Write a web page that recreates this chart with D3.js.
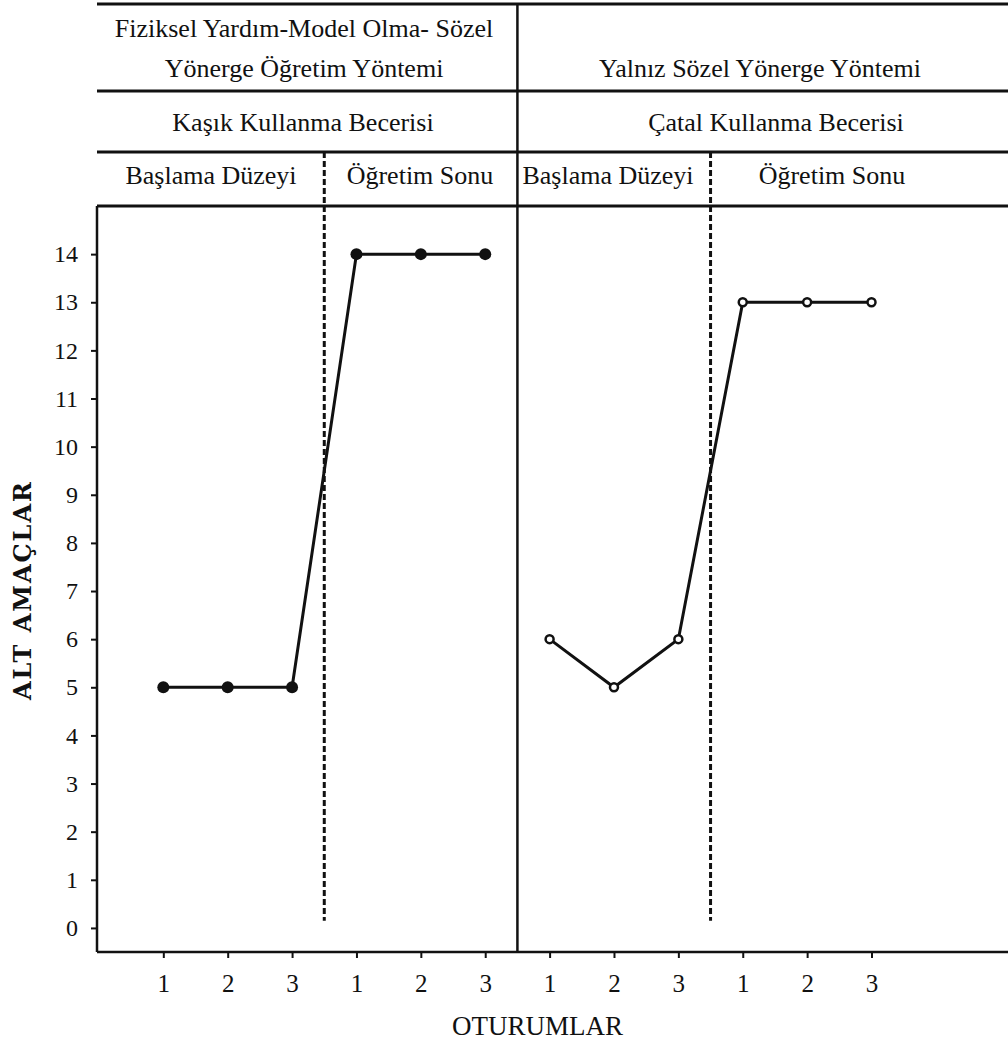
<!DOCTYPE html>
<html>
<head>
<meta charset="utf-8">
<script src="https://cdn.jsdelivr.net/npm/d3@7"></script>
<style>
  body { margin: 0; background: #fff; }
  svg { display: block; }
  text { fill: #111; }
</style>
</head>
<body>
<div id="chart"></div>
<script>
// session labels along the x axis (two skills x two phases x three sessions)
const sessions = ["1", "2", "3", "1", "2", "3", "1", "2", "3", "1", "2", "3"];
const yTicks = [0, 1, 2, 3, 4, 5, 6, 7, 8, 9, 10, 11, 12, 13, 14];

// Kaşık (spoon) - baseline then end of teaching
const kasikValues = [5, 5, 5, 14, 14, 14];
// Çatal (fork)
const catalValues = [6, 5, 6, 13, 13, 13];

const methodLabels = [
    ["Fiziksel Yardım-Model Olma- Sözel", "Yönerge Öğretim Yöntemi"],
    ["Yalnız Sözel Yönerge Yöntemi"]
];
const skillLabels = ["Kaşık Kullanma Becerisi", "Çatal Kullanma Becerisi"];
const phaseLabels = ["Başlama Düzeyi", "Öğretim Sonu", "Başlama Düzeyi", "Öğretim Sonu"];

const width = 1008, height = 1043;
const left = 97, right = 1008;
const plotTop = 206, plotBottom = 952;
const rowLines = [4, 91, 152, 206];
const serif = "'Liberation Serif', 'Times New Roman', serif";

const svg = d3.select("#chart")
    .append("svg")
    .attr("width", width)
    .attr("height", height)
    .style("font-family", serif);

const x = d3.scaleLinear().domain([-1.03, 13.12]).range([left, right]);
const y = d3.scaleLinear().domain([-0.5, 15]).range([plotBottom, plotTop]);

// --- header table ---
svg.append("g")
    .selectAll("line")
    .data(rowLines)
    .join("line")
    .attr("x1", left)
    .attr("x2", right)
    .attr("y1", d => d)
    .attr("y2", d => d)
    .attr("stroke", "#111")
    .attr("stroke-width", 3);

// solid divider between the two skills
svg.append("line")
    .attr("x1", x(5.5)).attr("x2", x(5.5))
    .attr("y1", rowLines[0]).attr("y2", plotBottom)
    .attr("stroke", "#111")
    .attr("stroke-width", 2.5);

// phase change lines
svg.append("g")
    .selectAll("line")
    .data([2.5, 8.5])
    .join("line")
    .attr("x1", d => x(d)).attr("x2", d => x(d))
    .attr("y1", rowLines[2]).attr("y2", y(0.15))
    .attr("stroke", "#111")
    .attr("stroke-width", 3)
    .attr("stroke-dasharray", "6,3");

const fs = "26px";

// row 1: method
const m1 = svg.append("text")
    .attr("x", 304)
    .attr("text-anchor", "middle")
    .style("font-family", serif)
    .attr("font-size", fs);
m1.selectAll("tspan")
    .data(methodLabels[0])
    .join("tspan")
    .attr("x", 304)
    .attr("y", (d, i) => 37 + i * 40)
    .text(d => d);

svg.append("text")
    .attr("x", 760)
    .attr("y", 77)
    .attr("text-anchor", "middle")
    .style("font-family", serif)
    .attr("font-size", fs)
    .text(methodLabels[1][0]);

// row 2: skill
svg.append("g")
    .selectAll("text")
    .data(skillLabels)
    .join("text")
    .attr("x", (d, i) => i === 0 ? 303 : 776)
    .attr("y", 131)
    .attr("text-anchor", "middle")
    .style("font-family", serif)
    .attr("font-size", fs)
    .text(d => d);

// row 3: phase
const phaseX = [211, 420, 608, 832];
svg.append("g")
    .selectAll("text")
    .data(phaseLabels)
    .join("text")
    .attr("x", (d, i) => phaseX[i])
    .attr("y", 184)
    .attr("text-anchor", "middle")
    .style("font-family", serif)
    .attr("font-size", fs)
    .text(d => d);

// --- axes ---
const yAxis = d3.axisLeft(y)
    .tickValues(yTicks)
    .tickSize(6)
    .tickPadding(13)
    .tickSizeOuter(0);

const yG = svg.append("g")
    .attr("transform", `translate(${left},0)`)
    .call(yAxis);
yG.select(".domain").remove();
yG.append("line")
    .attr("y1", plotTop).attr("y2", plotBottom)
    .attr("stroke", "#111").attr("stroke-width", 2.5);
yG.selectAll(".tick line").attr("stroke", "#111").attr("stroke-width", 2);
yG.selectAll(".tick text")
    .attr("font-size", "24px")
    .style("font-family", serif)
    .attr("fill", "#111");

const xAxis = d3.axisBottom(x)
    .tickValues(d3.range(sessions.length))
    .tickFormat(i => sessions[i])
    .tickSize(6)
    .tickPadding(16);

const xG = svg.append("g")
    .attr("transform", `translate(0,${plotBottom})`)
    .call(xAxis);
xG.select(".domain").remove();
xG.append("line")
    .attr("x1", left).attr("x2", right)
    .attr("stroke", "#111").attr("stroke-width", 2.5);
xG.selectAll(".tick line").attr("stroke", "#111").attr("stroke-width", 2);
xG.selectAll(".tick text")
    .attr("font-size", "25px")
    .style("font-family", serif)
    .attr("fill", "#111");

// axis titles
svg.append("text")
    .attr("transform", `translate(31,590) rotate(-90)`)
    .attr("text-anchor", "middle")
    .style("font-family", "'DejaVu Serif', serif")
    .attr("font-weight", "bold")
    .attr("font-size", "24px")
    .attr("letter-spacing", "2px")
    .text("ALT AMAÇLAR");

svg.append("text")
    .attr("x", 452)
    .attr("y", 1035)
    .style("font-family", serif)
    .attr("font-size", "27px")
    .text("OTURUMLAR");

// --- data series ---
const line = d3.line()
    .x(d => x(d.i))
    .y(d => y(d.v));

const series = [
    { values: kasikValues, offset: 0, filled: true },
    { values: catalValues, offset: 6, filled: false }
];

series.forEach(s => {
    const pts = s.values.map((v, k) => ({ i: s.offset + k, v }));
    svg.append("path")
        .datum(pts)
        .attr("d", line)
        .attr("fill", "none")
        .attr("stroke", "#111")
        .attr("stroke-width", 3);
    svg.append("g")
        .selectAll("circle")
        .data(pts)
        .join("circle")
        .attr("cx", d => x(d.i))
        .attr("cy", d => y(d.v))
        .attr("r", s.filled ? 6 : 4)
        .attr("fill", s.filled ? "#111" : "#fff")
        .attr("stroke", "#111")
        .attr("stroke-width", s.filled ? 0 : 2.5);
});
</script>
</body>
</html>
